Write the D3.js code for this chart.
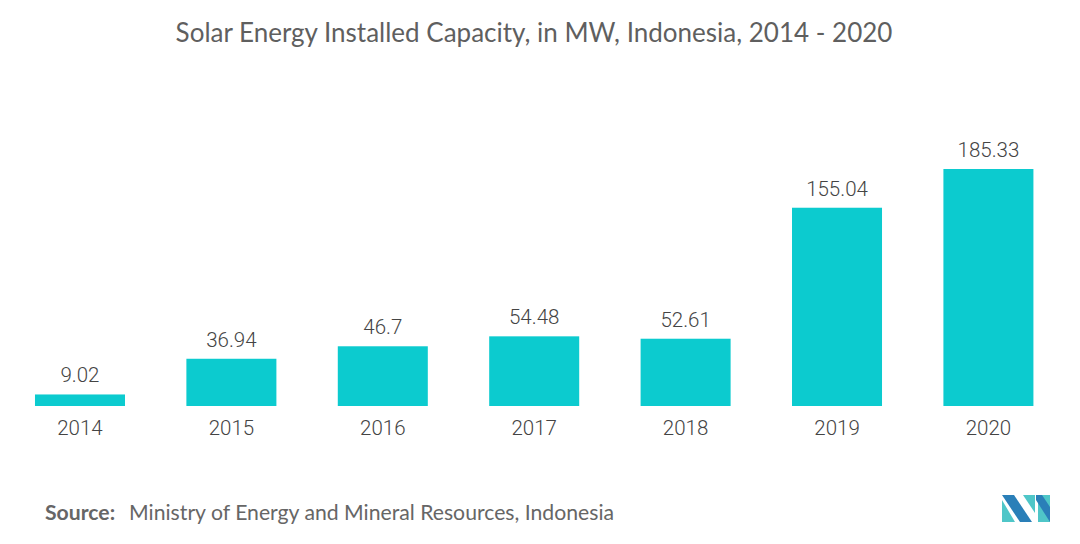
<!DOCTYPE html>
<html><head><meta charset="utf-8">
<script src="https://cdn.jsdelivr.net/npm/d3@7"></script>
<style>body{margin:0;background:#fff}</style>
</head><body>
<svg id="c" width="1080" height="544"></svg>
<script>
const years = ["2014","2015","2016","2017","2018","2019","2020"];
const values = [9.02, 36.94, 46.7, 54.48, 52.61, 155.04, 185.33];
const labels = ["9.02","36.94","46.7","54.48","52.61","155.04","185.33"];

const svg = d3.select("#c");
const W = 1080, H = 544;
svg.append("rect").attr("width",W).attr("height",H).attr("fill","#fff");

const x = d3.scaleBand().domain(years).range([4.7, 1063.7]).paddingInner(0.4055).paddingOuter(0.2);
const y = d3.scaleLinear().domain([0, 185.33]).range([406, 169]);

svg.append("text").attr("x",534).attr("y",42).attr("text-anchor","middle")
  .attr("font-family","Lato, sans-serif").attr("font-size",26).attr("fill","#5f5f5f")
  .text("Solar Energy Installed Capacity, in MW, Indonesia, 2014 - 2020");

svg.selectAll("rect.bar").data(values).join("rect").attr("class","bar")
  .attr("x",(d,i)=>x(years[i])).attr("width",x.bandwidth())
  .attr("y",d=>y(d)).attr("height",d=>y(0)-y(d)).attr("fill","#0ccbcf");

svg.selectAll("text.val").data(values).join("text").attr("class","val")
  .attr("x",(d,i)=>x(years[i])+x.bandwidth()/2).attr("y",d=>y(d)-12)
  .attr("text-anchor","middle").attr("font-family","Roboto, sans-serif").attr("font-weight",300)
  .attr("font-size",20.5).attr("fill","#444").text((d,i)=>labels[i]);

const ax = svg.append("g").attr("transform","translate(0,406)")
  .call(d3.axisBottom(x).tickSize(0).tickPadding(10));
ax.select(".domain").remove();
ax.selectAll("text").attr("font-family","Roboto, sans-serif").attr("font-weight",300)
  .attr("font-size",20.5).attr("fill","#444").attr("dy","0.95em");

const src = svg.append("text").attr("x",45).attr("y",520).attr("font-family","Lato, sans-serif").attr("font-size",21.2).attr("fill","#666");
src.append("tspan").attr("font-weight","bold").text("Source:");
src.append("tspan").attr("dx",14).text("Ministry of Energy and Mineral Resources, Indonesia");

// logo
const lg = svg.append("g").attr("transform","translate(1002,495)");
lg.append("polygon").attr("points","0,0 12,0 30,27 18,27").attr("fill","#2a7fb8");
lg.append("polygon").attr("points","0,5 0,27 13,27").attr("fill","#4fc6c8");
lg.append("polygon").attr("points","21,0 33,0 33,18").attr("fill","#4fc6c8");
lg.append("polygon").attr("points","36,0 48,0 48,27 36,27").attr("fill","#4fc6c8");
lg.append("polygon").attr("points","34,0 40,0 48,12 48,27 34,5").attr("fill","#2a7fb8");
</script>
</body></html>
